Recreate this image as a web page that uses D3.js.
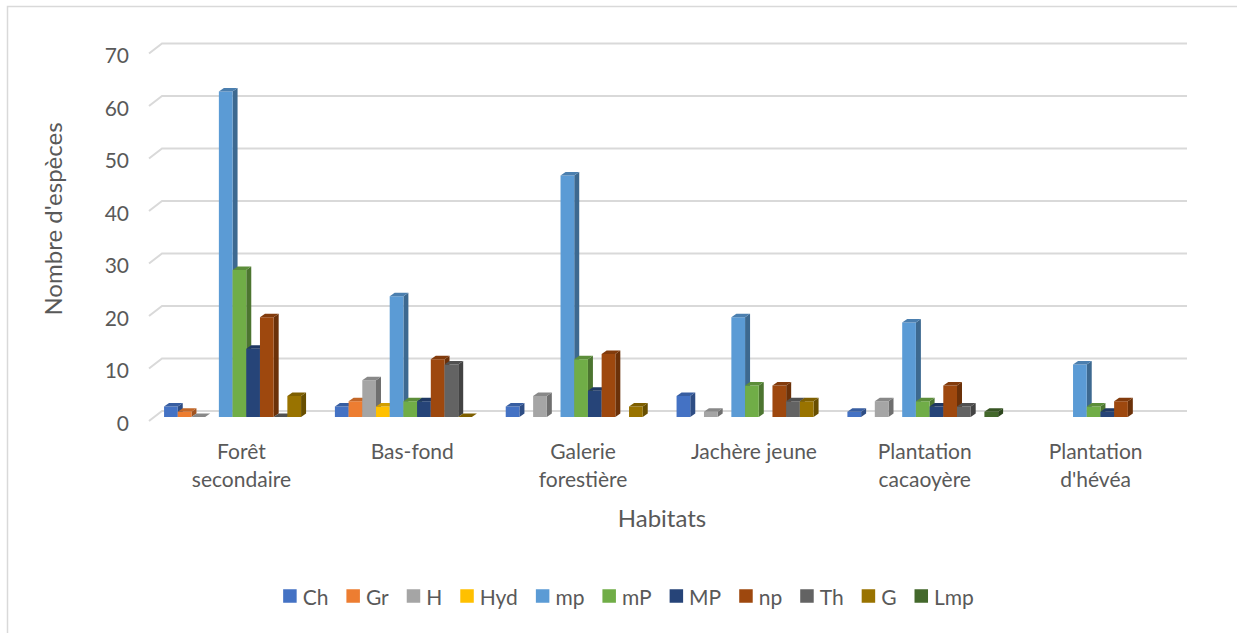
<!DOCTYPE html>
<html>
<head>
<meta charset="utf-8">
<script src="https://cdn.jsdelivr.net/npm/d3@7"></script>
<style>
  html, body { margin: 0; padding: 0; background: #fff; }
  svg { display: block; font-family: Lato, "Open Sans", sans-serif; }
</style>
</head>
<body>
<svg id="chart" width="1237" height="633"></svg>
<script>
// Habitats (two-line labels) and life-form series
const habitats = [
  ["Forêt", "secondaire"],
  ["Bas-fond"],
  ["Galerie", "forestière"],
  ["Jachère jeune"],
  ["Plantation", "cacaoyère"],
  ["Plantation", "d'hévéa"]
];
const seriesNames = ["Ch", "Gr", "H", "Hyd", "mp", "mP", "MP", "np", "Th", "G", "Lmp"];
const seriesColors = ["#4472C4", "#ED7D31", "#A5A5A5", "#FFC000", "#5B9BD5", "#70AD47",
                      "#264478", "#9E480E", "#636363", "#997300", "#43682B"];

// Number of species per habitat (null = no bar)
const Ch  = [2, 2, 2, 4, 1, null];
const Gr  = [1, 3, null, null, null, null];
const H   = [0, 7, 4, 1, 3, null];
const Hyd = [null, 2, null, null, null, null];
const mp  = [62, 23, 46, 19, 18, 10];
const mP  = [28, 3, 11, 6, 3, 2];
const MP  = [13, 3, 5, null, 2, 1];
const np  = [19, 11, 12, 6, 6, 3];
const Th  = [0, 10, null, 3, 2, null];
const G   = [4, 0, 2, 3, null, null];
const Lmp = [null, null, null, null, 1, null];
const seriesValues = [Ch, Gr, H, Hyd, mp, mP, MP, np, Th, G, Lmp];

const yTicks = [0, 10, 20, 30, 40, 50, 60, 70];
const yTitle = "Nombre d'espèces";
const xTitle = "Habitats";

const svg = d3.select("#chart");
const textColor = "#595959";
const gridColor = "#D9D9D9";

// chart frame
svg.append("rect")
  .attr("x", 7.5).attr("y", 6.5)
  .attr("width", 1400).attr("height", 800)
  .attr("fill", "none").attr("stroke", gridColor).attr("stroke-width", 1.5);

// 3D geometry: back wall and depth offsets
const wallLeft = 162, wallRight = 1187;
const depthX = 13, depthY = 10;        // floor depth (front → back)
const barShiftX = 8, barShiftY = 6;    // bars sit this far in front of the back wall
const capX = 5, capY = 3.5;            // visible bar depth

const yGrid = d3.scaleLinear().domain([0, 70]).range([411, 43.5]);
const yBar = d3.scaleLinear().domain([0, 70]).range([411 + barShiftY, 43.5 + barShiftY]);

const x0 = d3.scaleBand()
  .domain(d3.range(habitats.length))
  .range([wallLeft - barShiftX, wallRight - barShiftX])
  .paddingInner(0).paddingOuter(0);

const groupWidth = 150.7;
const x1 = d3.scaleBand()
  .domain(d3.range(seriesNames.length))
  .range([0, groupWidth]);

// gridlines with the slanted left edge of the floor/side wall
const grid = svg.append("g");
yTicks.forEach(t => {
  const yb = yGrid(t);
  grid.append("path")
    .attr("d", `M${wallLeft - depthX},${yb + depthY} L${wallLeft},${yb} L${wallRight},${yb}`)
    .attr("fill", "none").attr("stroke", gridColor).attr("stroke-width", 2);
});

// y tick labels
svg.append("g").selectAll("text").data(yTicks).join("text")
  .attr("x", 129)
  .attr("y", d => yGrid(d) + 11)
  .attr("text-anchor", "end")
  .attr("dominant-baseline", "central")
  .attr("font-size", 21)
  .attr("fill", textColor)
  .text(d => d);

// bars
const bars = svg.append("g");
habitats.forEach((h, i) => {
  const gx = x0(i) + (x0.bandwidth() - groupWidth) / 2;
  seriesNames.forEach((s, j) => {
    const v = seriesValues[j][i];
    if (v === null || v === undefined) return;
    const c = seriesColors[j];
    const xl = gx + x1(j), w = x1.bandwidth();
    const yt = yBar(v), yb = yBar(0);
    const g = bars.append("g");
    if (v > 0) {
      // side face
      g.append("path")
        .attr("d", `M${xl + w},${yt} L${xl + w + capX},${yt - capY} L${xl + w + capX},${yb - capY} L${xl + w},${yb} Z`)
        .attr("fill", d3.color(c).darker(1.1));
      // front face
      g.append("rect")
        .attr("x", xl).attr("y", yt).attr("width", w).attr("height", yb - yt)
        .attr("fill", c);
    }
    // top face
    g.append("path")
      .attr("d", `M${xl},${yt} L${xl + capX},${yt - capY} L${xl + w + capX},${yt - capY} L${xl + w},${yt} Z`)
      .attr("fill", d3.color(c).darker(0.55));
  });
});

// category labels
const catG = svg.append("g");
habitats.forEach((lines, i) => {
  const cx = x0(i) + x0.bandwidth() / 2 + 2;
  const t = catG.append("text")
    .attr("text-anchor", "middle")
    .attr("font-size", 21)
    .attr("fill", textColor);
  lines.forEach((ln, k) => {
    t.append("tspan").attr("x", cx).attr("y", 459 + k * 28).text(ln);
  });
});

// axis titles
svg.append("text")
  .attr("x", 662).attr("y", 527)
  .attr("text-anchor", "middle")
  .attr("font-size", 24)
  .attr("fill", textColor)
  .text(xTitle);

svg.append("text")
  .attr("transform", "translate(62,219) rotate(-90)")
  .attr("text-anchor", "middle")
  .attr("font-size", 24)
  .attr("fill", textColor)
  .text(yTitle);

// legend
const legend = svg.append("g");
const marker = 13.5, markerGap = 6, itemGap = 18;
const items = seriesNames.map((s, j) => {
  const g = legend.append("g");
  g.append("rect").attr("x", 0).attr("y", -marker / 2)
    .attr("width", marker).attr("height", marker).attr("fill", seriesColors[j]);
  const t = g.append("text").attr("x", marker + markerGap).attr("y", 0)
    .attr("dominant-baseline", "central")
    .attr("font-size", 21).attr("fill", textColor).text(s);
  return { g, w: marker + markerGap + t.node().getComputedTextLength() };
});
const total = d3.sum(items, d => d.w) + itemGap * (items.length - 1);
let lx = 628.5 - total / 2;
items.forEach(it => {
  it.g.attr("transform", `translate(${lx},596)`);
  lx += it.w + itemGap;
});
</script>
</body>
</html>
